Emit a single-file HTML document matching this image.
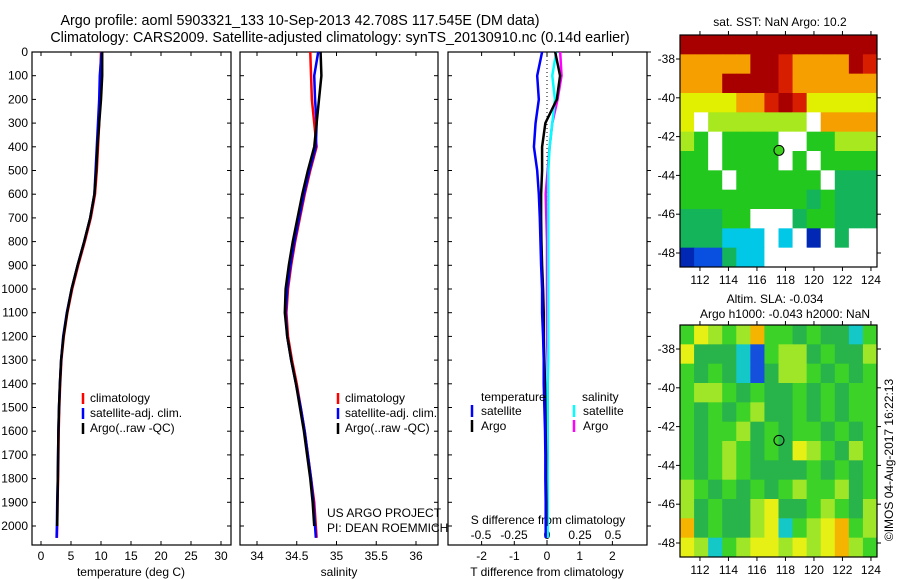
<!DOCTYPE html>
<html><head><meta charset="utf-8"><style>
body{margin:0;background:#fff;}
svg{display:block;font-family:"Liberation Sans",sans-serif;font-size:12px;}
</style></head><body>
<svg id="s" width="900" height="580" viewBox="0 0 900 580">
<text x="300" y="25" text-anchor="middle" font-size="14.3">Argo profile: aoml 5903321_133 10-Sep-2013 42.708S 117.545E (DM data)</text>
<text x="340" y="42" text-anchor="middle" font-size="14.3">Climatology: CARS2009. Satellite-adjusted climatology: synTS_20130910.nc (0.14d earlier)</text>
</svg>
<script>
const depths=[0,100,200,300,400,500,600,700,800,900,1000,1100,1200,1300,1400,1500,1600,1700,1800,1900,2000,2050];
const tClim=[10.0,9.9,9.8,9.7,9.5,9.3,9.0,8.3,7.3,6.2,5.2,4.4,3.8,3.4,3.2,3.05,2.95,2.9,2.85,2.75,2.7,2.65];
const tSat=[10.1,9.8,9.7,9.5,9.3,9.1,8.9,8.2,7.2,6.1,5.1,4.3,3.7,3.35,3.15,3.0,2.9,2.85,2.8,2.7,2.65,2.6];
const tArgo=[10.2,10.2,10.0,9.7,9.4,9.2,8.9,8.2,7.2,6.1,5.1,4.35,3.75,3.35,3.15,3.0,2.9,2.85,2.8,2.75,2.7,2.65];
const sClim=[34.67,34.68,34.69,34.72,34.75,34.67,34.6,34.54,34.48,34.43,34.39,34.37,34.39,34.44,34.5,34.55,34.6,34.64,34.68,34.72,34.74,34.75];
const sSat=[34.77,34.72,34.73,34.75,34.74,34.66,34.59,34.53,34.47,34.42,34.38,34.36,34.38,34.43,34.49,34.55,34.6,34.64,34.68,34.71,34.73,34.74];
const sArgo=[34.8,34.81,34.78,34.75,34.72,34.64,34.57,34.51,34.45,34.4,34.36,34.35,34.38,34.43,34.49,34.54,34.59,34.63,34.67,34.7,34.72,34.73];
const dTsat=[-0.15,-0.3,-0.25,-0.35,-0.4,-0.3,-0.25,-0.22,-0.2,-0.18,-0.15,-0.15,-0.12,-0.1,-0.1,-0.08,-0.06,-0.05,-0.05,-0.04,-0.04,-0.04];
const dTargo=[0.25,0.4,0.3,-0.05,-0.15,-0.15,-0.18,-0.18,-0.17,-0.15,-0.12,-0.1,-0.1,-0.08,-0.06,-0.05,-0.04,-0.03,-0.03,-0.02,-0.02,-0.02];
const dSsat=[0.07,0.04,0.06,0.04,0.02,0.01,0.01,0.01,0.01,0.01,0.01,0.01,0.01,0.01,0.005,0.005,0.005,0.005,0.005,0.005,0.005,0.005];
const dSargo=[0.1,0.11,0.08,0.04,0.02,0.005,-0.01,-0.005,0,0,0,0,0,0.005,0.005,0.005,0.005,0.005,0,0,0,0];
const depthTicks=[0,100,200,300,400,500,600,700,800,900,1000,1100,1200,1300,1400,1500,1600,1700,1800,1900,2000];
const tTicks=[0,5,10,15,20,25,30];
const sTicks=[34,34.5,35,35.5,36];
const sTickLabels=["34","34.5","35","35.5","36"];
const dT_Ticks=[-2,-1,0,1,2];
const dS_Ticks=[-0.5,-0.25,0,0.25,0.5];
const dS_TickLabels=["-0.5","-0.25","0","0.25","0.5"];
const lonTicks=[112,114,116,118,120,122,124];
const latTicks=[-38,-40,-42,-44,-46,-48];
const sstGrid=["RRRRRRRRRRRRRR","oooooRRrooooRr","oooRRRRroooooo","yyyyoorRryyyyy","y.lllllll.oooo","lg.gggg..gglll","gg.gggg.g.gggg","ggg.gggggg.ttt","gggggggggtgttt","tttgg...tggttt","tttccc.c.d.t..","dbbtcc........"];
const slaGrid=["gylgloggtgttcg","ytttcbglltgttl","gtgtcbtllgtgtg","gllgtgttgtgtgg","gtgtglttgtgtgg","gtggltgtggtgtg","gtglgtgtylgtlg","gtglgttttgtgtg","lgtgtgtglggltg","ltgttlyttglgtl","otgttlycglyogl","ylcglyylylyolg"];
const colors={R:"#a80000",r:"#d81e00",o:"#f5a000",y:"#e0f000",l:"#a8e81e",g:"#22c81e",t:"#14b45a",c:"#00c8e6",b:"#0a50e0",d:"#0028b4",".":"#ffffff"};
const slaColors={g:"#3cd228",t:"#28b44a",l:"#a0e628",y:"#e6f014",o:"#f5b400",c:"#14c8c8",b:"#1450dc"};
const NS="http://www.w3.org/2000/svg";const SV=document.getElementById('s');
function el(t,a,p){const e=document.createElementNS(NS,t);for(const k in a)e.setAttribute(k,a[k]);(p||SV).appendChild(e);return e;}
function txt(x,y,s,anchor,extra){const e=el('text',Object.assign({x:x,y:y,'text-anchor':anchor||'start'},extra||{}));e.textContent=s;return e;}
const Y0=52,PY=23.7;function yD(d){return Y0+d*PY/100;}
const TOP=52,BOT=545;
function frame(x0,x1,nm){const r=el('rect',{x:x0,y:TOP,width:x1-x0,height:BOT-TOP,fill:'none',stroke:'#000','stroke-width':1.2});

}
function prof(vals,xf,col,nm,n){const pts=[];for(let i=0;i<(n||vals.length);i++){pts.push(xf(vals[i])+','+yD(depths[i]));}
const p=el('polyline',{points:pts.join(' '),fill:'none',stroke:col,'stroke-width':2.5});

}
// panel 1
const x1f=v=>41+v*6;frame(32,231,'temperature-panel');
depthTicks.forEach(d=>{const y=yD(d);el('line',{x1:231,y1:y,x2:227,y2:y,stroke:'#000'});el('line',{x1:438,y1:y,x2:434,y2:y,stroke:'#000'});
const t=txt(28,y+4,String(d),'end');
});
[32,240,448].forEach(x0=>{depthTicks.forEach(d=>{const y=yD(d);el('line',{x1:x0,y1:y,x2:x0+4,y2:y,stroke:'#000'});});});
tTicks.forEach(v=>{const x=x1f(v);el('line',{x1:x,y1:BOT,x2:x,y2:BOT-4,stroke:'#000'});el('line',{x1:x,y1:TOP,x2:x,y2:TOP+4,stroke:'#000'});
const t=txt(x,560,String(v),'middle');
});
txt(131,576,'temperature (deg C)','middle');
prof(tClim,x1f,'#f00','temperature-climatology-line');prof(tSat,x1f,'#00f','temperature-satellite-line');prof(tArgo,x1f,'#000','temperature-argo-line',21);
// panel 2
const x2f=v=>257+(v-34)*79.5;frame(240,438,'salinity-panel');
sTicks.forEach((v,i)=>{const x=x2f(v);el('line',{x1:x,y1:BOT,x2:x,y2:BOT-4,stroke:'#000'});el('line',{x1:x,y1:TOP,x2:x,y2:TOP+4,stroke:'#000'});
const t=txt(x,560,sTickLabels[i],'middle');
});
txt(339,576,'salinity','middle');
prof(sClim,x2f,'#f00','salinity-climatology-line');prof(sSat,x2f,'#00f','salinity-satellite-line');prof(sArgo,x2f,'#000','salinity-argo-line',21);
// legends
[[83,'temperature-legend'],[338,'salinity-legend']].forEach(([lx,nm])=>{[['#f00','climatology'],['#00f','satellite-adj. clim.'],['#000','Argo(..raw -QC)']].forEach((c,i)=>{
const y=402+i*15;el('line',{x1:lx,y1:y-9,x2:lx,y2:y+2,stroke:c[0],'stroke-width':2.5});const t=txt(lx+7,y,c[1]);
});});
txt(327,517,'US ARGO PROJECT');
txt(327,532,'PI: DEAN ROEMMICH');
// panel 3
const x3T=v=>547+v*32.7, x3S=v=>547+v*132;frame(448,647,'difference-panel');
el('line',{x1:547,y1:TOP,x2:547,y2:BOT,stroke:'#000','stroke-dasharray':'1,3'});
dT_Ticks.forEach(v=>{const x=x3T(v);el('line',{x1:x,y1:BOT,x2:x,y2:BOT-4,stroke:'#000'});el('line',{x1:x,y1:TOP,x2:x,y2:TOP+4,stroke:'#000'});
const t=txt(x,560,String(v),'middle');
});
dS_Ticks.forEach((v,i)=>{const t=txt(x3S(v),539,dS_TickLabels[i],'middle');
});
depthTicks.forEach(d=>{const y=yD(d);el('line',{x1:647,y1:y,x2:651,y2:y,stroke:'#000'});});
txt(548,524,'S difference from climatology','middle');
txt(547,576,'T difference from climatology','middle');
prof(dSargo,x3S,'#f0f','s-diff-argo-line');prof(dSsat,x3S,'#0ff','s-diff-satellite-line');
prof(dTargo,x3T,'#000','t-diff-argo-line',21);prof(dTsat,x3T,'#00f','t-diff-satellite-line');
txt(481,401,'temperature');
txt(582,401,'salinity');
[[472,'#00f','satellite',415],[472,'#000','Argo',430],[574,'#0ff','satellite',415],[574,'#f0f','Argo',430]].forEach(a=>{
el('line',{x1:a[0],y1:a[3]-10,x2:a[0],y2:a[3]+2,stroke:a[1],'stroke-width':2.5});const t=txt(a[0]+9,a[3],a[2]);
});
// maps
function map(grid,cols,y0,nm){const X0=680,X1=877,Y1=y0+232;const cw=(X1-X0)/14,ch=(Y1-y0)/12;
const g=el('g',{});

grid.forEach((row,r)=>{for(let c=0;c<row.length;c++){const rc=el('rect',{x:X0+c*cw,y:y0+r*ch,width:cw+0.5,height:ch+0.5,fill:cols[row[c]]},g);

}});
el('rect',{x:X0,y:y0,width:X1-X0,height:Y1-y0,fill:'none',stroke:'#000','stroke-width':1.2});
const lx=v=>680+(v-110.6)*14.25, ly=v=>y0+24+(-38-v)*19.4;
lonTicks.forEach(v=>{const x=lx(v);el('line',{x1:x,y1:y0,x2:x,y2:y0-4,stroke:'#000'});el('line',{x1:x,y1:Y1,x2:x,y2:Y1+4,stroke:'#000'});
const t=txt(x,Y1+17,String(v),'middle');
});
latTicks.forEach(v=>{const y=ly(v);el('line',{x1:X0,y1:y,x2:X0-4,y2:y,stroke:'#000'});el('line',{x1:X1,y1:y,x2:X1+4,y2:y,stroke:'#000'});
const t=txt(675,y+4,String(v),'end');
});
return {lx,ly};}
const m1=map(sstGrid,colors,35,'sst-map');
const c1=el('circle',{cx:m1.lx(117.545),cy:m1.ly(-42.708),r:5,fill:'#3cd21e',stroke:'#000'});

txt(780,26,'sat. SST: NaN Argo: 10.2','middle');
const m2=map(slaGrid,slaColors,325,'sla-map');
const c2=el('circle',{cx:m2.lx(117.545),cy:m2.ly(-42.708),r:5,fill:'none',stroke:'#000'});

txt(775,303,'Altim. SLA: -0.034','middle');
txt(785,318,'Argo h1000: -0.043 h2000: NaN','middle');
const v=txt(0,0,'©IMOS 04-Aug-2017 16:22:13','middle',{transform:'translate(893,460) rotate(-90)'});

</script>
</body></html>
